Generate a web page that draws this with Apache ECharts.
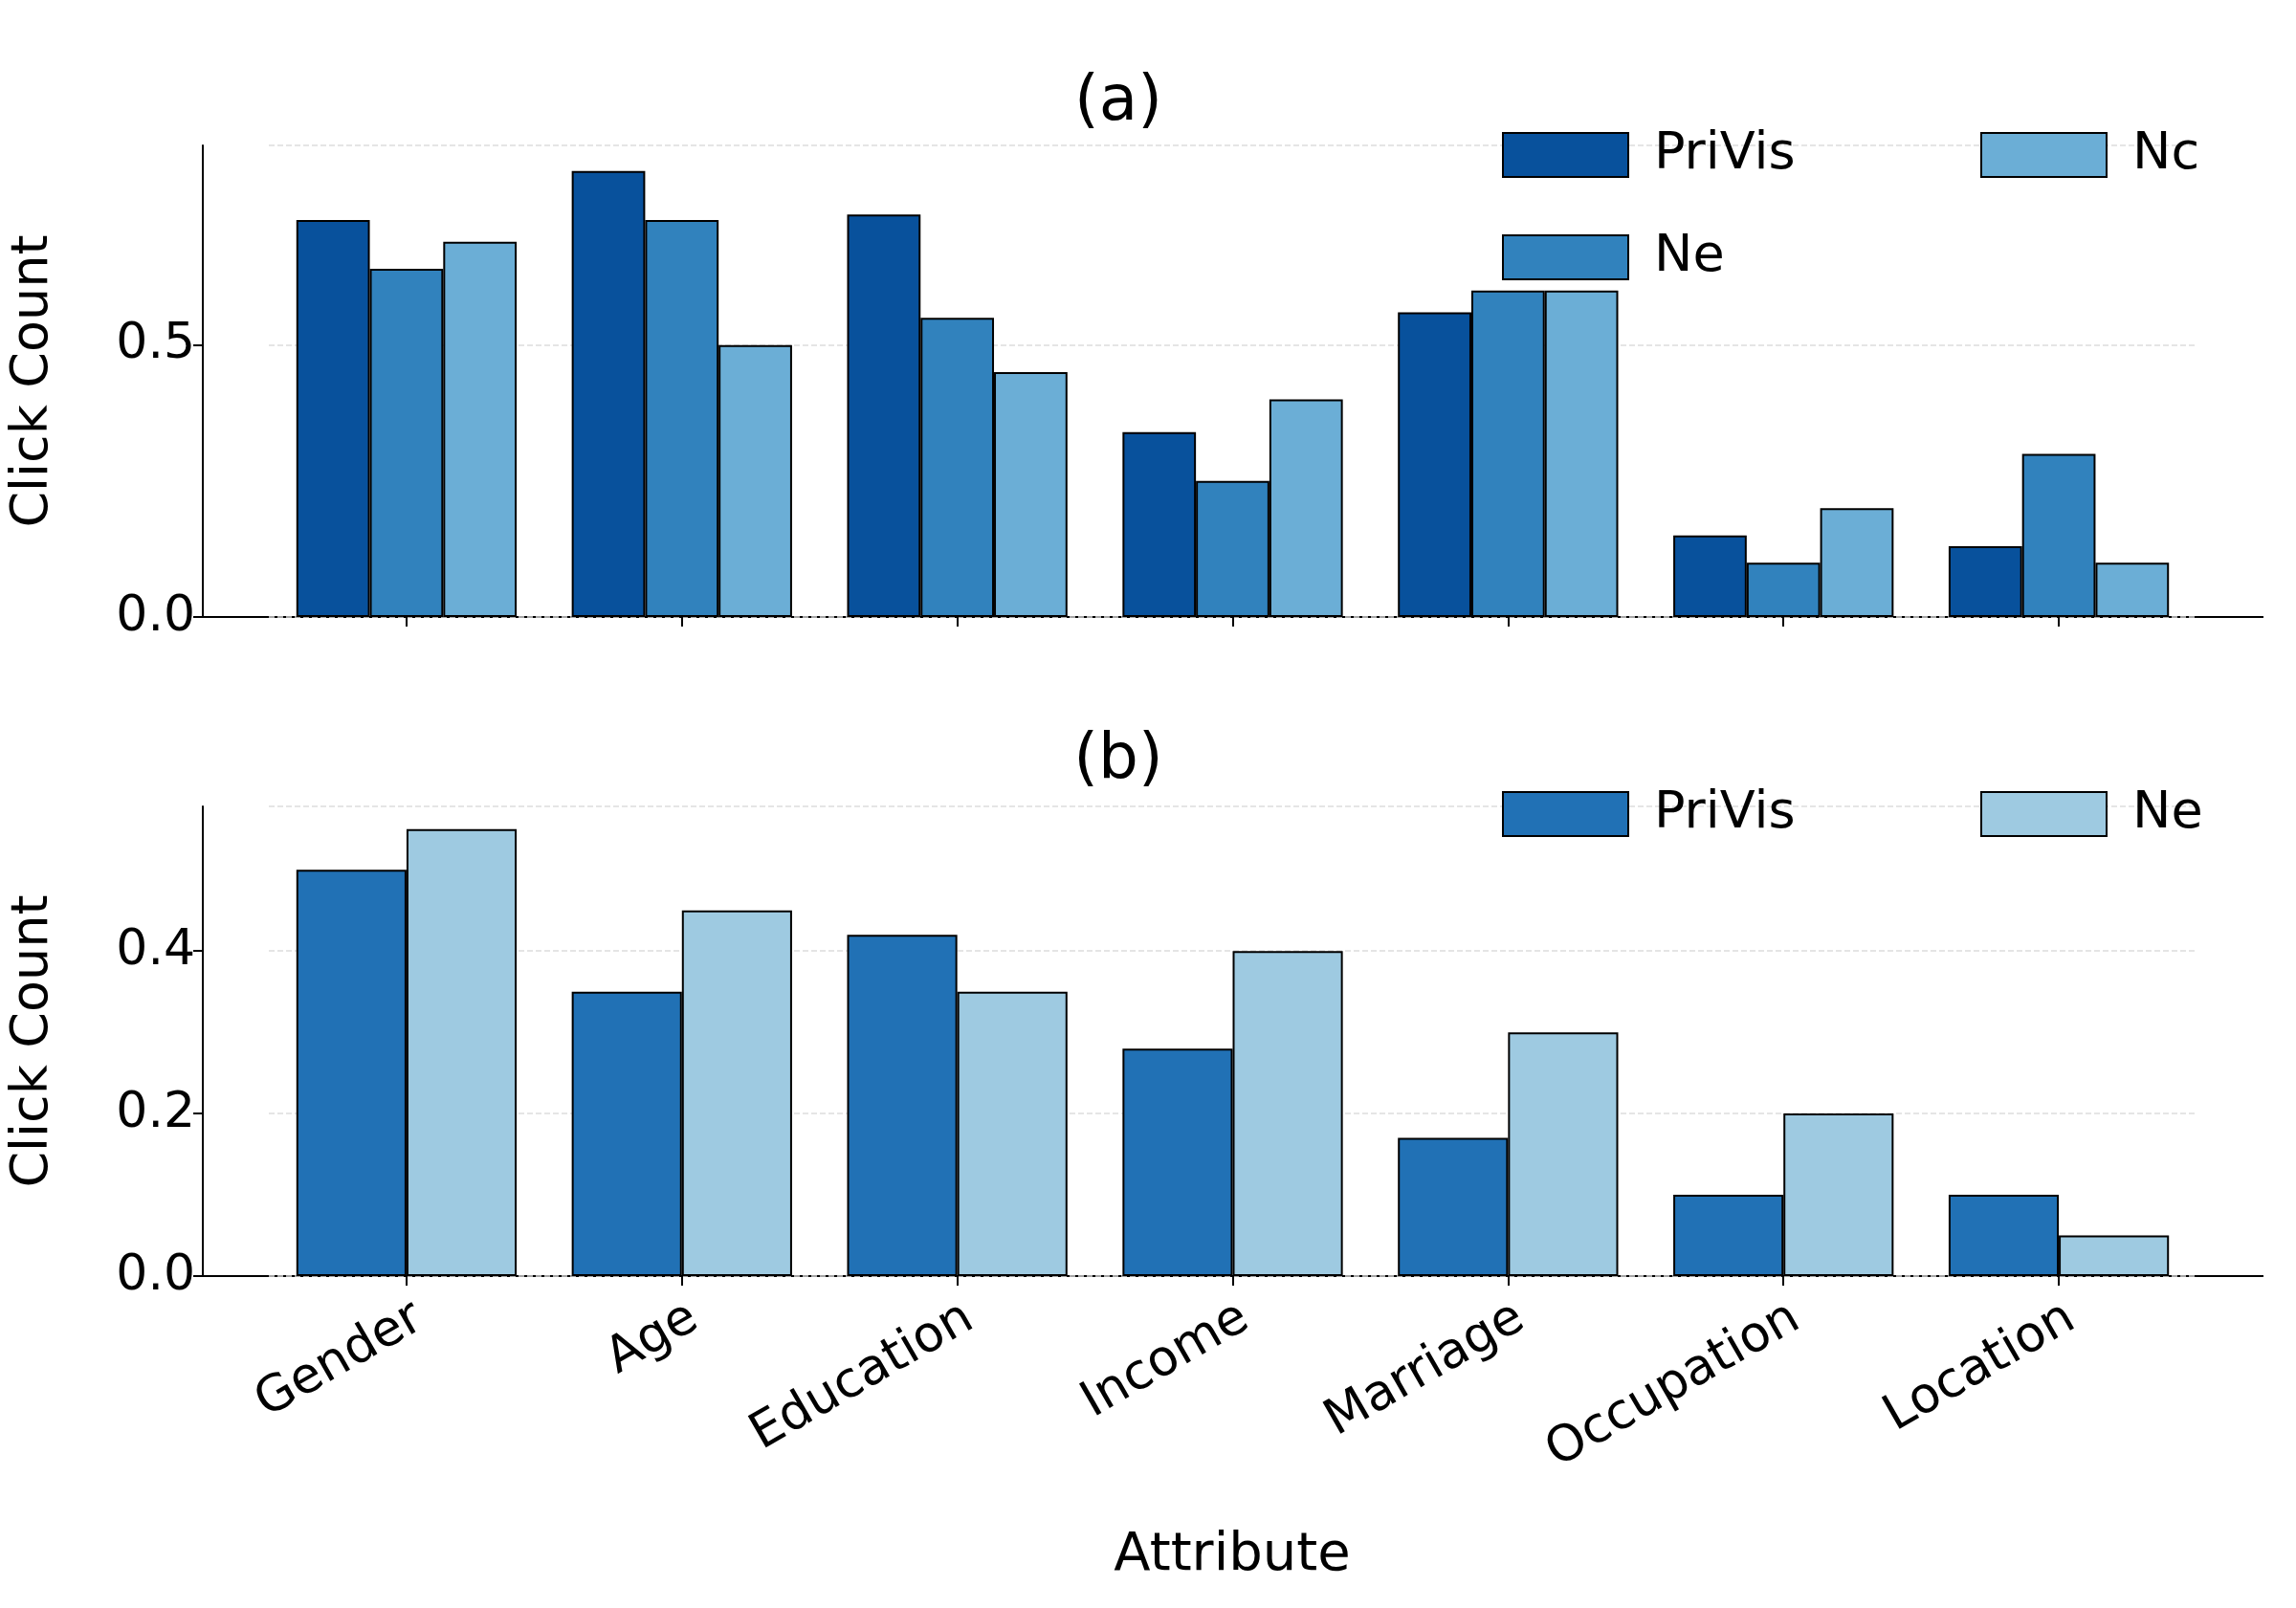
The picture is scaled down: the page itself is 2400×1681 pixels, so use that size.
<!DOCTYPE html><html><head><meta charset="utf-8"><script src="https://cdn.jsdelivr.net/npm/echarts@6/dist/echarts.min.js"></script>
<style>html,body{margin:0;background:#fff}#c{width:2400px;height:1681px}</style></head><body><div id="c"></div><script>
const categories=['Gender','Age','Education','Income','Marriage','Occupation','Location'];
const aPriVis=[0.73,0.82,0.74,0.34,0.56,0.15,0.13];
const aNe=[0.64,0.73,0.55,0.25,0.60,0.10,0.30];
const aNc=[0.69,0.50,0.45,0.40,0.60,0.20,0.10];
const bPriVis=[0.50,0.35,0.42,0.28,0.17,0.10,0.10];
const bNe=[0.55,0.45,0.35,0.40,0.30,0.20,0.05];
const F='DejaVu Sans';
const c=echarts.init(document.getElementById('c'));
const grids=[{left:281,right:104,top:152,height:493},{left:281,right:104,top:843,height:491}];
function xa(i,show){return {type:'category',gridIndex:i,data:categories,boundaryGap:true,
 axisLine:{show:false},axisTick:{show:true,alignWithLabel:true,length:10,lineStyle:{color:'#000',width:2}},
 axisLabel:{show:show,rotate:30,fontSize:52,fontFamily:F,color:'#000',margin:18,align:'right',verticalAlign:'top',interval:0}};}
function ya(i,max,iv){return {type:'value',gridIndex:i,min:0,max:max,interval:iv,offset:69,
 name:'Click Count',nameLocation:'middle',nameGap:150,nameTextStyle:{fontSize:54,fontFamily:F,color:'#000'},
 axisLine:{show:true,lineStyle:{color:'#000',width:2}},axisTick:{show:true,length:10,lineStyle:{color:'#000',width:2}},
 axisLabel:{fontSize:52,fontFamily:F,color:'#000',showMaxLabel:false,formatter:v=>v.toFixed(1)},
 splitLine:{show:true,lineStyle:{color:'#ddd',type:'dashed',width:1.5}}};}
function bar(name,data,color,i){return {type:'bar',name:name,data:data,xAxisIndex:i,yAxisIndex:i,barGap:'0%',barCategoryGap:'20%',
 itemStyle:{color:color,borderColor:'#000',borderWidth:2}};}
const leg=(data,left,top,extra)=>Object.assign({data:data,left:left,top:top,orient:'vertical',itemWidth:131,itemHeight:46,itemGap:53,
 textStyle:{fontSize:54,fontFamily:F,color:'#000',padding:[0,0,0,22]},icon:'rect',itemStyle:{borderColor:'#000',borderWidth:2}},extra||{});
c.setOption({animation:false,
 grid:grids,
 xAxis:[xa(0,false),xa(1,true)],
 yAxis:[ya(0,0.867,0.5),ya(1,0.578,0.2)],
 legend:[leg(['PriVis','Ne'],1565,130),leg(['Nc'],2065,130),leg([{name:'PriVis '}],1565,819),leg([{name:'Ne '}],2065,819)],
 series:[bar('PriVis',aPriVis,'#08519c',0),bar('Ne',aNe,'#3182bd',0),bar('Nc',aNc,'#6baed6',0),
  bar('PriVis ',bPriVis,'#2171b5',1),bar('Ne ',bNe,'#9ecae1',1)],
 graphic:[
  {type:'line',shape:{x1:212,y1:645,x2:2366,y2:645},style:{stroke:'#000',lineWidth:2}},
  {type:'line',shape:{x1:212,y1:1334,x2:2366,y2:1334},style:{stroke:'#000',lineWidth:2}},
  {type:'text',x:1169,y:108,style:{text:'(a)',font:'66px DejaVu Sans',fill:'#000',align:'center',verticalAlign:'middle'}},
  {type:'text',x:1169,y:796,style:{text:'(b)',font:'66px DejaVu Sans',fill:'#000',align:'center',verticalAlign:'middle'}},
  {type:'text',x:1288,y:1626,style:{text:'Attribute',font:'56px DejaVu Sans',fill:'#000',align:'center',verticalAlign:'middle'}}
 ]});
</script></body></html>
